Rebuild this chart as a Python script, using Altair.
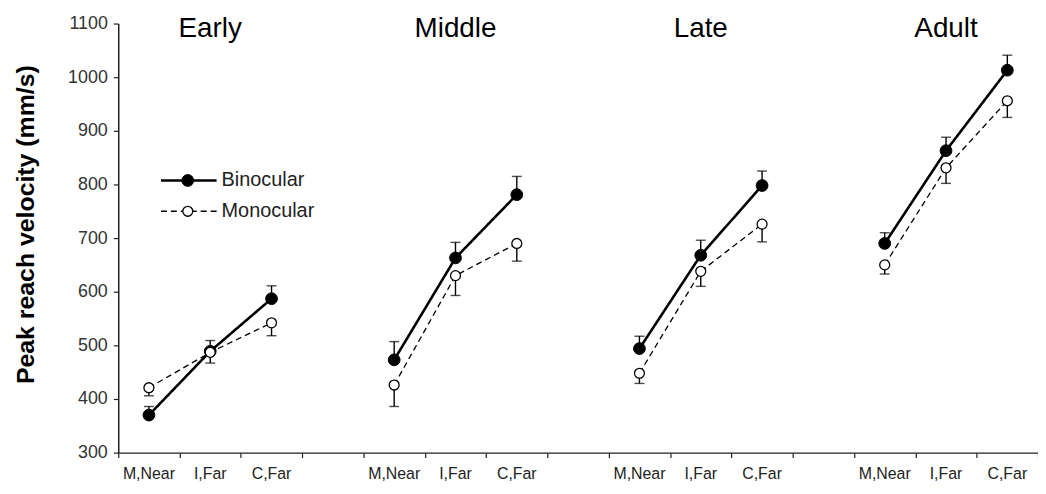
import altair as alt
import pandas as pd

groups = ["Early", "Middle", "Late", "Adult"]
conditions = ["M,Near", "I,Far", "C,Far"]
bin_mean = [370, 489, 587, 473, 663, 781, 494, 668, 798, 690, 863, 1013]
bin_err = [16, 20, 24, 34, 29, 34, 23, 28, 27, 20, 25, 28]
mono_mean = [421, 487, 542, 426, 630, 690, 448, 638, 726, 650, 831, 956]
mono_err = [15, 20, 24, 40, 37, 33, 19, 28, 33, 17, 29, 31]
series = ["Binocular", "Monocular"]
y_ticks = [300, 400, 500, 600, 700, 800, 900, 1000, 1100]

# slot index along x: 3 conditions per group, one empty slot between groups
n_slots = len(groups) * (len(conditions) + 1) - 1
rows, labels = [], []
for gi, g in enumerate(groups):
    for ci, c in enumerate(conditions):
        k = gi * 3 + ci
        pos = gi * (len(conditions) + 1) + ci
        labels.append(dict(pos=pos, label=c))
        rows.append(dict(pos=pos, grp=g, series="Binocular",
                         val=bin_mean[k], bend=bin_mean[k] + bin_err[k]))
        rows.append(dict(pos=pos, grp=g, series="Monocular",
                         val=mono_mean[k], bend=mono_mean[k] - mono_err[k]))
df = pd.DataFrame(rows)
lab_df = pd.DataFrame(labels)
title_df = pd.DataFrame({"pos": [gi * (len(conditions) + 1) + 1 for gi in range(len(groups))],
                         "label": groups})
tick_vals = [i - 0.5 for i in range(n_slots + 1)]

FONT = "Liberation Sans"
W, H = 926, 432

x_scale = alt.Scale(domain=[-0.5, n_slots - 0.5], nice=False, zero=False)
x_enc = alt.X("pos:Q", scale=x_scale,
              axis=alt.Axis(title=None, values=tick_vals, labels=False, grid=False,
                            tickSize=5, tickColor="#222", tickWidth=1.2,
                            domainColor="#222", domainWidth=1.5))
y_scale = alt.Scale(domain=[300, 1100], nice=False, zero=False)
y_enc = alt.Y("val:Q", scale=y_scale,
              axis=alt.Axis(title="Peak reach velocity (mm/s)", values=y_ticks, format="d",
                            grid=False, labelFontSize=18, labelColor="#333", labelFont=FONT,
                            tickSize=5, tickColor="#222", tickWidth=1.2,
                            domainColor="#222", domainWidth=1.5,
                            labelPadding=6, titleFont=FONT, titleFontSize=25,
                            titleFontWeight="bold", titleColor="#000",
                            titleX=-80, titleY=202))

style = {"Binocular": dict(dash=[1, 0], w=2.6, fill="black", size=140, pw=1),
         "Monocular": dict(dash=[6, 4], w=1.3, fill="white", size=100, pw=1.3)}

xs = alt.X("pos:Q", scale=x_scale)
ys = alt.Y("val:Q", scale=y_scale)

layers = [alt.Chart(df).mark_point(opacity=0).encode(x=x_enc, y=y_enc)]
for s in series:
    st = style[s]
    d = alt.Chart(df).transform_filter(alt.datum.series == s)
    layers.append(d.mark_line(color="black", strokeWidth=st["w"], strokeDash=st["dash"]).encode(
        x=xs, y=ys, detail="grp:N"))
for s in series:
    d = alt.Chart(df).transform_filter(alt.datum.series == s)
    layers.append(d.mark_rule(color="black", strokeWidth=1.4).encode(x=xs, y=ys, y2="bend:Q"))
    layers.append(d.mark_tick(color="black", thickness=1.4, size=10, orient="horizontal").encode(
        x=xs, y=alt.Y("bend:Q", scale=y_scale)))
for s in series:
    st = style[s]
    d = alt.Chart(df).transform_filter(alt.datum.series == s)
    layers.append(d.mark_point(shape="circle", filled=True, fill=st["fill"], stroke="black",
                               strokeWidth=st["pw"], size=st["size"], opacity=1).encode(x=xs, y=ys))

# category labels under the axis, group titles above
layers.append(alt.Chart(lab_df).mark_text(font=FONT, fontSize=16, color="#222", baseline="middle").encode(
    x=xs, y=alt.value(H + 22), text="label:N"))
layers.append(alt.Chart(title_df).mark_text(font=FONT, fontSize=28, color="black", baseline="middle").encode(
    x=xs, y=alt.value(6), text="label:N"))

# legend
leg_y = {"Binocular": 158, "Monocular": 189}
leg_df = pd.DataFrame({"series": series})
for s in series:
    st = style[s]
    d = alt.Chart(leg_df).transform_filter(alt.datum.series == s)
    layers.append(d.mark_rule(color="black", strokeWidth=st["w"], strokeDash=st["dash"]).encode(
        x=alt.value(43), x2=alt.value(99), y=alt.value(leg_y[s])))
    layers.append(d.mark_point(shape="circle", filled=True, fill=st["fill"], stroke="black",
                               strokeWidth=st["pw"], size=st["size"], opacity=1).encode(
        x=alt.value(70), y=alt.value(leg_y[s])))
    layers.append(d.mark_text(font=FONT, fontSize=20, color="#222", align="left", baseline="middle").encode(
        x=alt.value(104), y=alt.value(leg_y[s]), text="series:N"))

chart = alt.layer(*layers).properties(
    width=W, height=H,
    autosize=alt.AutoSizeParams(type="none"),
    padding={"left": 111, "top": 14, "right": 0, "bottom": 40},
    background="white",
).configure_view(stroke=None)

chart.save("out.html", embed_options={"renderer": "svg", "actions": False})
